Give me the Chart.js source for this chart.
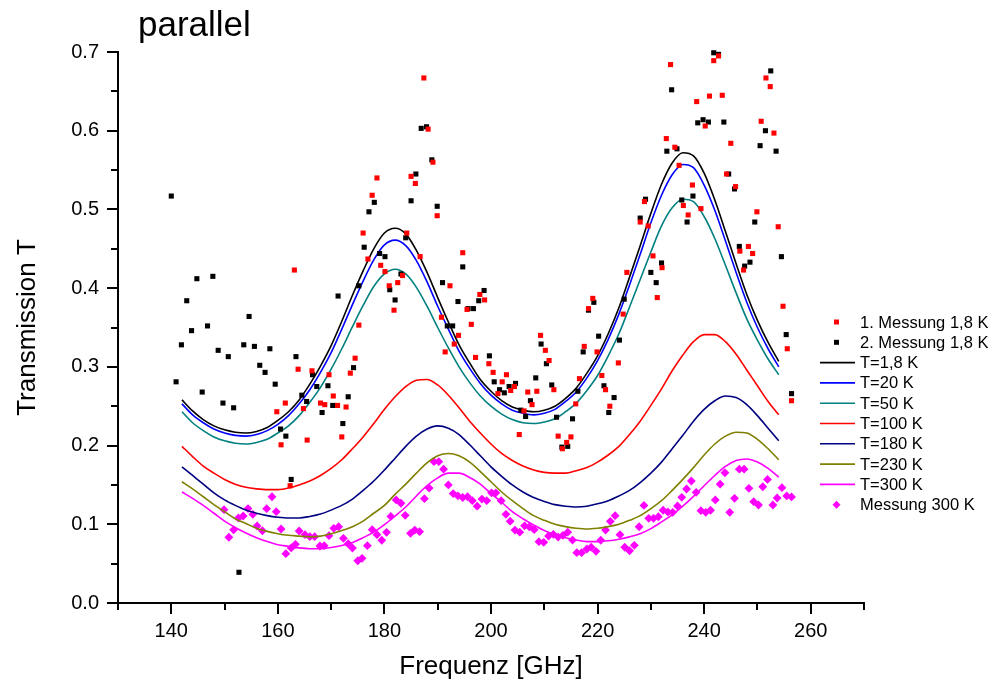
<!DOCTYPE html>
<html>
<head>
<meta charset="utf-8">
<script src="https://cdn.jsdelivr.net/npm/chart.js@4.4.0/dist/chart.umd.min.js"></script>
<style>
  html, body { margin: 0; padding: 0; background: #fff; }
  #wrap { width: 999px; height: 693px; }
</style>
</head>
<body>
<div id="wrap"><canvas id="myChart" width="999" height="693"></canvas></div>
<script>
// fitted curves, all on the same frequency grid (GHz)
const freq = [142,144,146,148,150,152,154,156,158,160,162,164,166,168,170,172,174,176,178,180,182,184,186,188,190,192,194,196,198,200,202,204,206,208,210,212,214,216,218,220,222,224,226,228,230,232,234,236,238,240,242,244,246,248,250,252,254];

const fitT1_8 = [0.258,0.244,0.233,0.225,0.220,0.217,0.216,0.218,0.223,0.232,0.243,0.258,0.278,0.301,0.327,0.358,0.391,0.422,0.450,0.470,0.476,0.469,0.448,0.420,0.388,0.357,0.328,0.305,0.284,0.269,0.257,0.249,0.245,0.243,0.245,0.250,0.260,0.273,0.292,0.314,0.342,0.375,0.414,0.454,0.495,0.532,0.559,0.572,0.568,0.546,0.512,0.472,0.431,0.392,0.359,0.331,0.307];
const fitT20 = [0.253,0.239,0.229,0.221,0.216,0.213,0.212,0.214,0.219,0.227,0.238,0.253,0.271,0.293,0.318,0.348,0.379,0.409,0.436,0.455,0.461,0.454,0.435,0.408,0.377,0.348,0.320,0.298,0.279,0.264,0.253,0.245,0.241,0.239,0.241,0.246,0.256,0.268,0.286,0.308,0.335,0.367,0.404,0.443,0.483,0.518,0.544,0.557,0.553,0.531,0.499,0.460,0.420,0.382,0.350,0.323,0.300];
const fitT50 = [0.243,0.229,0.219,0.211,0.206,0.203,0.202,0.204,0.208,0.216,0.225,0.238,0.255,0.274,0.297,0.323,0.351,0.378,0.402,0.418,0.424,0.418,0.401,0.377,0.350,0.324,0.300,0.280,0.263,0.250,0.240,0.233,0.229,0.228,0.230,0.234,0.243,0.254,0.270,0.289,0.314,0.342,0.376,0.411,0.446,0.479,0.502,0.513,0.510,0.491,0.463,0.429,0.394,0.361,0.334,0.310,0.290];
const fitT100 = [0.199,0.186,0.174,0.165,0.157,0.151,0.147,0.145,0.144,0.144,0.146,0.150,0.155,0.162,0.171,0.182,0.196,0.211,0.228,0.246,0.262,0.275,0.283,0.284,0.277,0.264,0.248,0.231,0.216,0.202,0.190,0.181,0.174,0.169,0.166,0.165,0.165,0.168,0.172,0.179,0.188,0.199,0.214,0.231,0.251,0.272,0.295,0.315,0.332,0.341,0.341,0.332,0.316,0.296,0.276,0.256,0.239];
const fitT180 = [0.173,0.162,0.151,0.140,0.131,0.124,0.118,0.114,0.111,0.109,0.108,0.108,0.110,0.113,0.118,0.124,0.132,0.143,0.155,0.169,0.184,0.199,0.212,0.221,0.225,0.222,0.214,0.201,0.187,0.173,0.161,0.150,0.141,0.134,0.129,0.125,0.123,0.122,0.123,0.126,0.130,0.136,0.143,0.153,0.165,0.179,0.196,0.213,0.231,0.246,0.257,0.263,0.261,0.252,0.238,0.222,0.206];
const fitT230 = [0.154,0.145,0.135,0.125,0.116,0.107,0.101,0.095,0.091,0.088,0.086,0.085,0.084,0.085,0.088,0.092,0.097,0.104,0.114,0.124,0.138,0.151,0.165,0.178,0.187,0.190,0.187,0.179,0.167,0.154,0.141,0.130,0.120,0.111,0.105,0.100,0.097,0.095,0.094,0.095,0.097,0.100,0.105,0.111,0.120,0.130,0.143,0.157,0.172,0.188,0.202,0.212,0.217,0.216,0.208,0.196,0.182];
const fitT300 = [0.141,0.133,0.124,0.114,0.104,0.096,0.089,0.083,0.078,0.074,0.072,0.070,0.069,0.069,0.0705,0.073,0.077,0.083,0.090,0.0995,0.1105,0.122,0.136,0.149,0.159,0.165,0.165,0.1595,0.151,0.139,0.128,0.116,0.107,0.099,0.092,0.0865,0.083,0.080,0.078,0.078,0.079,0.081,0.084,0.088,0.0945,0.103,0.112,0.123,0.1355,0.149,0.162,0.1735,0.181,0.183,0.179,0.171,0.160];

// 1. Messung 1,8 K
const mess1Freq = [163.1,163.8,161.4,159.8,160.6,162.3,187.4,188.2,189.1,178.6,185.0,185.8,177.7,189.9,176.0,184.2,176.9,179.3,180.1,186.7,183.4,180.9,182.5,194.7,192.3,197.9,198.8,181.8,190.7,195.5,196.3,175.2,193.9,193.1,191.4,174.5,197.1,166.4,169.6,173.6,170.4,168.0,168.8,171.2,172.8,164.8,165.5,172.0,199.6,200.4,202.9,202.1,201.3,230.4,232.1,225.5,231.2,219.1,218.3,224.8,209.3,210.2,217.5,219.9,210.9,223.9,220.8,216.6,204.4,203.7,206.9,208.6,211.8,221.5,222.3,215.9,207.7,206.2,205.3,212.6,215.0,214.2,213.4,233.7,242.7,241.8,251.6,252.4,238.6,241.0,243.4,240.2,250.7,253.1,232.9,234.5,245.0,235.3,244.2,245.9,237.8,236.1,239.4,237.0,228.8,249.9,229.5,253.9,248.3,246.7,249.1,247.4,254.8,255.6,256.4,228.0];
const mess1T = [0.423,0.297,0.254,0.243,0.201,0.149,0.667,0.602,0.560,0.540,0.542,0.533,0.518,0.492,0.470,0.470,0.437,0.429,0.421,0.440,0.416,0.403,0.407,0.445,0.403,0.392,0.385,0.372,0.363,0.373,0.354,0.353,0.340,0.329,0.319,0.311,0.312,0.295,0.290,0.292,0.263,0.254,0.252,0.251,0.249,0.247,0.207,0.211,0.304,0.293,0.290,0.281,0.266,0.441,0.426,0.420,0.388,0.387,0.374,0.367,0.340,0.321,0.326,0.319,0.308,0.305,0.289,0.285,0.275,0.270,0.268,0.269,0.271,0.271,0.250,0.253,0.252,0.244,0.214,0.212,0.211,0.204,0.196,0.684,0.695,0.689,0.667,0.656,0.637,0.644,0.645,0.606,0.612,0.597,0.590,0.579,0.584,0.556,0.545,0.529,0.531,0.505,0.501,0.493,0.510,0.497,0.479,0.478,0.453,0.447,0.444,0.423,0.377,0.323,0.257,0.484];

// 2. Messung 1,8 K
const mess2Freq = [140.0,144.8,147.8,142.9,154.6,146.8,143.8,141.9,153.6,155.6,158.5,148.8,150.7,163.4,156.6,157.6,140.9,159.5,145.8,149.7,151.7,160.5,161.5,162.5,152.7,186.9,187.9,188.9,185.9,178.1,177.1,185.0,189.9,184.0,176.2,179.1,180.1,183.1,175.2,181.0,182.0,171.3,190.9,194.7,198.7,193.8,197.7,195.7,196.7,191.8,192.8,199.7,166.5,174.2,167.3,169.4,164.5,165.4,173.2,170.3,168.3,172.2,200.6,201.6,202.5,203.4,232.0,230.0,231.0,219.3,218.3,225.0,209.4,220.2,224.1,210.4,217.3,208.4,211.4,221.2,204.6,216.3,223.1,207.4,205.6,206.5,212.3,222.1,215.3,213.3,214.4,241.8,242.7,252.5,233.9,238.8,239.8,240.8,243.7,251.5,250.5,253.5,233.0,234.9,244.6,245.7,237.9,235.8,229.0,236.8,249.5,246.6,254.5,248.6,247.6,228.0,255.4,256.4];
const mess2T = [0.517,0.412,0.415,0.384,0.364,0.352,0.346,0.328,0.328,0.326,0.323,0.321,0.313,0.313,0.302,0.293,0.281,0.278,0.268,0.254,0.248,0.221,0.212,0.157,0.039,0.603,0.605,0.563,0.545,0.509,0.497,0.511,0.504,0.464,0.452,0.444,0.440,0.418,0.403,0.398,0.385,0.390,0.407,0.427,0.397,0.383,0.384,0.374,0.374,0.352,0.352,0.314,0.290,0.299,0.275,0.276,0.264,0.256,0.262,0.251,0.242,0.228,0.281,0.271,0.267,0.275,0.432,0.420,0.407,0.382,0.372,0.386,0.329,0.339,0.334,0.304,0.319,0.286,0.277,0.276,0.279,0.269,0.261,0.257,0.245,0.237,0.236,0.242,0.234,0.198,0.199,0.699,0.697,0.676,0.652,0.610,0.614,0.611,0.611,0.600,0.581,0.574,0.574,0.577,0.545,0.526,0.517,0.512,0.513,0.484,0.484,0.453,0.440,0.433,0.428,0.489,0.341,0.266];

// Messung 300 K
const mess300Freq = [149.9,150.8,151.7,152.6,153.5,154.4,155.3,156.1,157.1,157.9,158.9,159.7,160.6,161.5,162.5,163.3,164.0,165.1,166.0,166.9,167.9,168.7,169.6,170.5,171.4,172.3,173.2,174.0,175.0,175.8,176.8,177.7,178.6,179.5,180.4,181.2,182.2,183.1,183.9,184.9,185.7,186.6,187.5,188.4,189.3,190.2,191.1,192.0,192.9,193.8,194.7,195.6,196.5,197.4,198.3,199.2,200.1,200.9,201.9,202.8,203.6,204.5,205.4,206.3,207.2,208.1,209.0,209.9,210.8,211.7,212.6,213.5,214.4,215.3,216.1,217.0,218.0,218.8,219.7,220.6,221.5,222.4,223.3,224.2,225.1,226.0,226.9,227.8,228.7,229.6,230.5,231.4,232.3,233.2,234.1,235.0,235.8,236.7,237.6,238.5,239.4,240.3,241.2,242.1,243.0,243.9,244.8,245.7,246.6,247.5,248.4,249.3,250.2,251.0,251.9,252.9,253.7,254.6,255.5,256.4];
const mess300T = [0.1185,0.0835,0.093,0.108,0.1105,0.120,0.1127,0.0978,0.0918,0.1198,0.135,0.116,0.094,0.0626,0.070,0.0746,0.0915,0.0868,0.0842,0.0842,0.0724,0.0728,0.0855,0.0949,0.0969,0.0822,0.0753,0.0699,0.0537,0.0568,0.0728,0.0931,0.0868,0.0797,0.0898,0.110,0.131,0.1267,0.1114,0.0885,0.0927,0.0906,0.1325,0.146,0.1795,0.1795,0.170,0.150,0.139,0.136,0.134,0.135,0.130,0.123,0.132,0.130,0.140,0.140,0.130,0.1127,0.104,0.0927,0.090,0.098,0.0966,0.0931,0.0779,0.0771,0.0851,0.0873,0.0838,0.086,0.090,0.080,0.0639,0.0639,0.0686,0.0708,0.0657,0.0797,0.0927,0.1038,0.1109,0.0868,0.0708,0.0664,0.0733,0.0969,0.124,0.1076,0.1076,0.1096,0.1178,0.1156,0.1152,0.1232,0.1343,0.1448,0.155,0.1406,0.1173,0.1152,0.1178,0.1309,0.151,0.1655,0.1152,0.133,0.170,0.170,0.1457,0.1287,0.1245,0.1477,0.157,0.1245,0.1334,0.1465,0.136,0.1347];

const FONT = "'Liberation Sans', Arial, Helvetica, sans-serif";
Chart.defaults.font.family = FONT;
Chart.defaults.color = '#000';

function pts(xs, ys) {
  return xs.map((x, i) => ({ x: x, y: ys[i] }));
}

function fitLine(label, values, color) {
  return {
    label: label,
    data: pts(freq, values),
    borderColor: color,
    backgroundColor: color,
    borderWidth: 1.6,
    pointRadius: 0,
    showLine: true,
    fill: false,
    clip: false,
    cubicInterpolationMode: 'monotone'
  };
}

function marks(label, xs, ys, color, style, r) {
  return {
    label: label,
    data: pts(xs, ys),
    showLine: false,
    clip: false,
    pointStyle: style,
    pointRadius: r,
    pointBorderWidth: 0,
    borderWidth: 0,
    backgroundColor: color,
    borderColor: color
  };
}

// outward tick marks (long on labelled values, short in between), legend and title
const decorPlugin = {
  id: 'decor',
  afterDraw(chart) {
    const ctx = chart.ctx;
    const area = chart.chartArea;
    const xs = chart.scales.x, ys = chart.scales.y;
    ctx.save();
    ctx.strokeStyle = '#000';
    ctx.lineWidth = 2;
    xs.ticks.forEach(t => {
      const px = Math.round(xs.getPixelForValue(t.value));
      const len = t.value % 20 === 0 ? 11 : 7;
      ctx.beginPath();
      ctx.moveTo(px, area.bottom);
      ctx.lineTo(px, area.bottom + len);
      ctx.stroke();
    });
    ys.ticks.forEach(t => {
      const py = Math.round(ys.getPixelForValue(t.value));
      const len = Math.round(t.value * 100) % 10 === 0 ? 11 : 7;
      ctx.beginPath();
      ctx.moveTo(area.left, py);
      ctx.lineTo(area.left - len, py);
      ctx.stroke();
    });

    // title
    ctx.fillStyle = '#000';
    ctx.font = '35px ' + FONT;
    ctx.textAlign = 'left';
    ctx.textBaseline = 'alphabetic';
    ctx.fillText('parallel', 138, 36);

    // legend
    ctx.font = '16.5px ' + FONT;
    ctx.textBaseline = 'middle';
    chart.data.datasets.forEach((ds, i) => {
      const y = 322 + i * 20.3;
      if (ds.showLine) {
        ctx.strokeStyle = ds.borderColor;
        ctx.lineWidth = 1.6;
        ctx.beginPath();
        ctx.moveTo(820, y);
        ctx.lineTo(855, y);
        ctx.stroke();
      } else {
        ctx.fillStyle = ds.backgroundColor;
        ctx.beginPath();
        if (ds.pointStyle === 'rect') {
          ctx.rect(834, y - 2.5, 5, 5);
        } else {
          ctx.moveTo(836.5, y - 4);
          ctx.lineTo(840.5, y);
          ctx.lineTo(836.5, y + 4);
          ctx.lineTo(832.5, y);
          ctx.closePath();
        }
        ctx.fill();
      }
      ctx.fillStyle = '#000';
      ctx.fillText(ds.label, 860, y + 1);
    });
    ctx.restore();
  }
};

const tickFont = { family: FONT, size: 20 };

new Chart(document.getElementById('myChart'), {
  type: 'line',
  data: {
    datasets: [
      marks('1. Messung 1,8 K', mess1Freq, mess1T, '#ff0000', 'rect', 3.6),
      marks('2. Messung 1,8 K', mess2Freq, mess2T, '#000000', 'rect', 3.6),
      fitLine('T=1,8 K', fitT1_8, '#000000'),
      fitLine('T=20 K', fitT20, '#0000ff'),
      fitLine('T=50 K', fitT50, '#008080'),
      fitLine('T=100 K', fitT100, '#ff0000'),
      fitLine('T=180 K', fitT180, '#000080'),
      fitLine('T=230 K', fitT230, '#808000'),
      fitLine('T=300 K', fitT300, '#ff00ff'),
      marks('Messung 300 K', mess300Freq, mess300T, '#ff00ff', 'rectRot', 4.4)
    ]
  },
  options: {
    responsive: false,
    animation: false,
    devicePixelRatio: 1,
    layout: { padding: { left: 0, right: 135, top: 52, bottom: 0 } },
    plugins: {
      legend: { display: false },
      tooltip: { enabled: false }
    },
    scales: {
      x: {
        type: 'linear',
        min: 130,
        max: 270,
        afterFit: s => { s.height = 90; },
        ticks: {
          stepSize: 10,
          maxTicksLimit: 100,
          autoSkip: false,
          maxRotation: 0,
          padding: 5,
          font: tickFont,
          color: '#000',
          callback: v => (v % 20 === 0 ? String(v) : '')
        },
        grid: { display: true, drawOnChartArea: false, drawTicks: true, tickLength: 11, tickColor: 'rgba(0,0,0,0)' },
        border: { display: true, color: '#000', width: 2 },
        title: {
          display: true,
          text: 'Frequenz [GHz]',
          color: '#000',
          font: { family: FONT, size: 26, lineHeight: 1 },
          padding: { top: 0, bottom: 13 }
        }
      },
      y: {
        min: 0,
        max: 0.7,
        afterFit: s => { s.width = 118; },
        ticks: {
          stepSize: 0.05,
          maxTicksLimit: 100,
          autoSkip: false,
          padding: 8,
          font: tickFont,
          color: '#000',
          callback: v => (Math.round(v * 100) % 10 === 0 ? v.toFixed(1) : '')
        },
        grid: { display: true, drawOnChartArea: false, drawTicks: true, tickLength: 11, tickColor: 'rgba(0,0,0,0)' },
        border: { display: true, color: '#000', width: 2 },
        title: {
          display: true,
          text: 'Transmission T',
          color: '#000',
          font: { family: FONT, size: 26, lineHeight: 1 },
          padding: { top: 15, bottom: 0 }
        }
      }
    }
  },
  plugins: [decorPlugin]
});
</script>
</body>
</html>
